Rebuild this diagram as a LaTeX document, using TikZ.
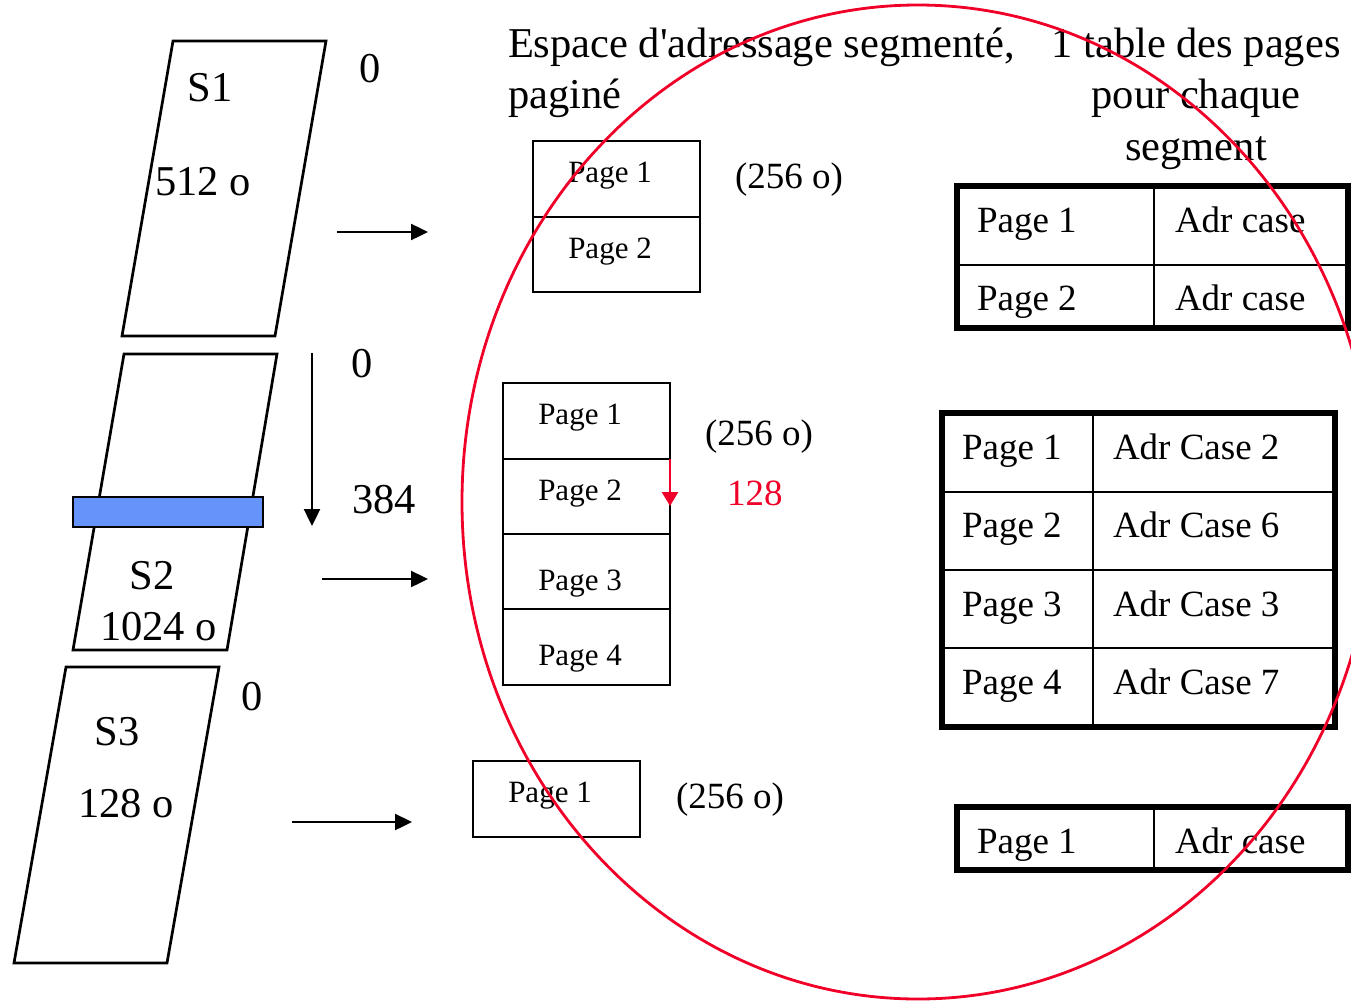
\documentclass[tikz,border=0pt]{standalone}
\usepackage{fontspec}
\setmainfont{Liberation Serif}
\usetikzlibrary{arrows.meta}
\definecolor{segblue}{RGB}{100,148,250}
\definecolor{markred}{RGB}{240,0,40}
\begin{document}
\begin{tikzpicture}[x=1pt,y=-1pt,
  segline/.style={draw, line width=2.7pt, line join=miter},
  bigtxt/.style={inner sep=0pt, outer sep=0pt, font=\fontsize{42.5}{50}\selectfont},
  midtxt/.style={inner sep=0pt, outer sep=0pt, font=\fontsize{37}{44}\selectfont},
  smalltxt/.style={inner sep=0pt, outer sep=0pt, anchor=base, font=\fontsize{31}{37}\selectfont},
  celltxt/.style={inner sep=0pt, outer sep=0pt, anchor=base west, font=\fontsize{37}{44}\selectfont},
  mapto/.style={line width=2.4pt, -{Triangle[length=17pt,width=16pt]}},
  pcell/.style={draw, line width=2.7pt, inner sep=0pt, outer sep=0pt, minimum width=167pt, anchor=north west},
  tcell/.style={draw, line width=2.5pt, inner sep=0pt, outer sep=0pt, anchor=north west},
  tframe/.style={draw, line width=5.5pt, line join=miter},
]
\useasboundingbox (0,0) rectangle (1351,1001);

% ---- segments ----
\coordinate (s1a) at (173,41);  \coordinate (s1b) at (326,41);
\coordinate (s1c) at (275,336); \coordinate (s1d) at (122,336);
\draw[segline] (s1a) -- (s1b) -- (s1c) -- (s1d) -- cycle;

\coordinate (s2a) at (124,354); \coordinate (s2b) at (277,354);
\coordinate (s2c) at (227,650); \coordinate (s2d) at (73,650);
\draw[segline] (s2a) -- (s2b) -- (s2c) -- (s2d) -- cycle;
\node[draw, fill=segblue, line width=2.5pt, inner sep=0pt, outer sep=0pt,
      minimum width=190pt, minimum height=30pt] (bar) at (168,512) {};

\coordinate (s3a) at (66,667);  \coordinate (s3b) at (219,667);
\coordinate (s3c) at (167,963); \coordinate (s3d) at (14,963);
\draw[segline] (s3a) -- (s3b) -- (s3c) -- (s3d) -- cycle;

\node[bigtxt, anchor=base] (s1name) at (210,101) {S1};
\node[bigtxt, anchor=base west] (s1size) at (155,195) {512 o};
\node[bigtxt, anchor=base] (s1zero) at (370,82) {0};
\node[bigtxt, anchor=base] (s2zero) at (362,377) {0};
\node[bigtxt, anchor=base west] (s2off) at (352,513) {384};
\node[bigtxt, anchor=base] (s2name) at (152,589) {S2};
\node[bigtxt, anchor=base west] (s2size) at (100,640) {1024 o};
\node[bigtxt, anchor=base] (s3zero) at (252,710) {0};
\node[bigtxt, anchor=base] (s3name) at (117,745) {S3};
\node[bigtxt, anchor=base west] (s3size) at (78,817) {128 o};

% offset arrow inside S2
\coordinate (offtop) at (312,353); \coordinate (offbot) at (312,526);
\draw[mapto] (offtop) -- (offbot);

% segment -> pages arrows
\coordinate (a1s) at (337,232); \coordinate (a1e) at (428,232);
\coordinate (a2s) at (322,579); \coordinate (a2e) at (428,579);
\coordinate (a3s) at (292,822); \coordinate (a3e) at (412,822);
\draw[mapto] (a1s) -- (a1e);
\draw[mapto] (a2s) -- (a2e);
\draw[mapto] (a3s) -- (a3e);

% ---- headings ----
\node[bigtxt, anchor=base west] (h1a) at (508,57) {Espace d\textquotesingle adressage segmenté,};
\node[bigtxt, anchor=base west] (h1b) at (508,108) {paginé};
\node[bigtxt, anchor=base] (h2a) at (1196,57) {1 table des pages};
\node[bigtxt, anchor=base] (h2b) at (1196,108) {pour chaque};
\node[bigtxt, anchor=base] (h2c) at (1196,160) {segment};

% ---- paged segments ----
\node[pcell, minimum height=76pt] (g1p1) at (533,141) {};
\node[pcell, minimum height=75pt] (g1p2) at (g1p1.south west) {};
\node[smalltxt] (g1l1) at (610,182) {Page 1};
\node[smalltxt] (g1l2) at (610,258) {Page 2};
\node[midtxt, anchor=base west] (g1sz) at (735,188) {(256 o)};

\node[pcell, minimum height=76pt] (g2p1) at (503,383) {};
\node[pcell, minimum height=75pt] (g2p2) at (g2p1.south west) {};
\node[pcell, minimum height=75pt] (g2p3) at (g2p2.south west) {};
\node[pcell, minimum height=76pt] (g2p4) at (g2p3.south west) {};
\node[smalltxt] (g2l1) at (580,424) {Page 1};
\node[smalltxt] (g2l2) at (580,500) {Page 2};
\node[smalltxt] (g2l3) at (580,590) {Page 3};
\node[smalltxt] (g2l4) at (580,665) {Page 4};
\node[midtxt, anchor=base west] (g2sz) at (705,445) {(256 o)};
\node[midtxt, anchor=base west, text=markred] (g2off) at (727,505) {128};
\coordinate (redtip) at (670,506);
\draw[markred, line width=2.6pt, -{Triangle[length=14pt,width=16pt]}] (g2p2.north east) -- (redtip);

\node[pcell, minimum height=76pt] (g3p1) at (473,761) {};
\node[smalltxt] (g3l1) at (550,802) {Page 1};
\node[midtxt, anchor=base west] (g3sz) at (676,808) {(256 o)};

% ---- page tables ----
% table of S1
\node[tcell, minimum width=197pt, minimum height=79pt] (t1a) at (957,186) {};
\node[tcell, minimum width=194pt, minimum height=79pt] (t1b) at (t1a.north east) {};
\node[tcell, minimum width=197pt, minimum height=63pt] (t1c) at (t1a.south west) {};
\node[tcell, minimum width=194pt, minimum height=63pt] (t1d) at (t1c.north east) {};
\draw[tframe] (t1a.north west) rectangle (t1d.south east);
\node[celltxt] (t1ta) at ([shift={(20,46)}]t1a.north west) {Page 1};
\node[celltxt] (t1tb) at ([shift={(21,46)}]t1b.north west) {Adr case};
\node[celltxt] (t1tc) at ([shift={(20,45)}]t1c.north west) {Page 2};
\node[celltxt] (t1td) at ([shift={(21,45)}]t1d.north west) {Adr case};

% table of S2
\node[tcell, minimum width=151pt, minimum height=79pt] (t2a) at (942,413) {};
\node[tcell, minimum width=242pt, minimum height=79pt] (t2b) at (t2a.north east) {};
\node[tcell, minimum width=151pt, minimum height=78pt] (t2c) at (t2a.south west) {};
\node[tcell, minimum width=242pt, minimum height=78pt] (t2d) at (t2c.north east) {};
\node[tcell, minimum width=151pt, minimum height=78pt] (t2e) at (t2c.south west) {};
\node[tcell, minimum width=242pt, minimum height=78pt] (t2f) at (t2e.north east) {};
\node[tcell, minimum width=151pt, minimum height=79pt] (t2g) at (t2e.south west) {};
\node[tcell, minimum width=242pt, minimum height=79pt] (t2h) at (t2g.north east) {};
\draw[tframe] (t2a.north west) rectangle (t2h.south east);
\node[celltxt] (t2ta) at ([shift={(20,46)}]t2a.north west) {Page 1};
\node[celltxt] (t2tb) at ([shift={(20,46)}]t2b.north west) {Adr Case 2};
\node[celltxt] (t2tc) at ([shift={(20,45)}]t2c.north west) {Page 2};
\node[celltxt] (t2td) at ([shift={(20,45)}]t2d.north west) {Adr Case 6};
\node[celltxt] (t2te) at ([shift={(20,46)}]t2e.north west) {Page 3};
\node[celltxt] (t2tf) at ([shift={(20,46)}]t2f.north west) {Adr Case 3};
\node[celltxt] (t2tg) at ([shift={(20,46)}]t2g.north west) {Page 4};
\node[celltxt] (t2th) at ([shift={(20,46)}]t2h.north west) {Adr Case 7};

% table of S3
\node[tcell, minimum width=197pt, minimum height=63pt] (t3a) at (957,807) {};
\node[tcell, minimum width=194pt, minimum height=63pt] (t3b) at (t3a.north east) {};
\draw[tframe] (t3a.north west) rectangle (t3b.south east);
\node[celltxt] (t3ta) at ([shift={(20,46)}]t3a.north west) {Page 1};
\node[celltxt] (t3tb) at ([shift={(21,46)}]t3b.north west) {Adr case};

% ---- red ellipse ----
\draw[markred, line width=2.8pt] (918,502) ellipse [x radius=456pt, y radius=497pt];
\end{tikzpicture}
\end{document}
